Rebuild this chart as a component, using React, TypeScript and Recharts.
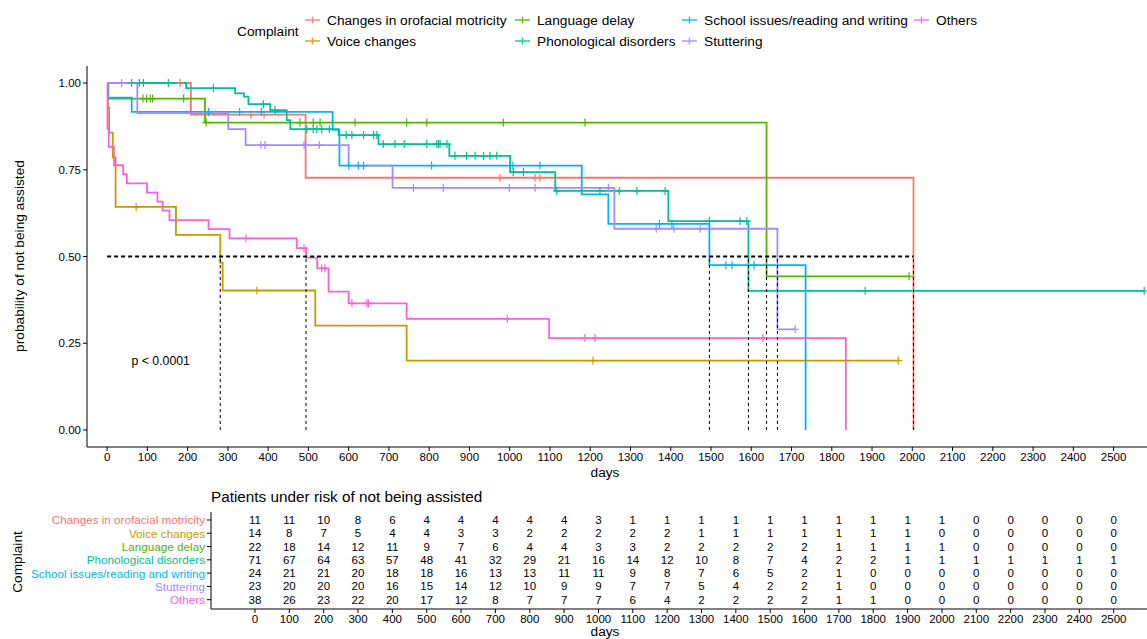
import React from "react";
import {
  ComposedChart,
  Line,
  Scatter,
  XAxis,
  YAxis,
  ReferenceLine,
  ReferenceDot,
} from "recharts";

const FONT = '"Liberation Sans", Arial, Helvetica, sans-serif';

const complaints = [
  "Changes in orofacial motricity",
  "Voice changes",
  "Language delay",
  "Phonological disorders",
  "School issues/reading and writing",
  "Stuttering",
  "Others",
];
const colors = ["#F8766D", "#C49A00", "#53B400", "#00C094", "#00B6EB", "#A58AFF", "#FB61D7"];

// Kaplan-Meier steps, [day, probability of not being assisted]
const orofacialSteps = [[0, 1], [208, 0.909], [493, 0.727], [2003, 0]];
const voiceSteps = [[0, 1], [2, 0.929], [5, 0.857], [14, 0.786], [21, 0.643], [171, 0.5625], [281, 0.482], [287, 0.402], [517, 0.301], [744, 0.2], [1965, 0.2]];
const languageSteps = [[0, 1], [3, 0.955], [243, 0.886], [1638, 0.443], [1992, 0.443]];
const phonoSteps = [[0, 1], [196, 0.985], [318, 0.97], [340, 0.961], [351, 0.939], [405, 0.922], [446, 0.893], [455, 0.867], [575, 0.85], [674, 0.824], [850, 0.79], [1001, 0.743], [1113, 0.689], [1394, 0.602], [1593, 0.401], [2576, 0.401]];
const schoolSteps = [[0, 1], [2, 0.958], [61, 0.917], [560, 0.865], [577, 0.762], [1179, 0.679], [1245, 0.594], [1496, 0.475], [1735, 0]];
const stutteringSteps = [[0, 1], [75, 0.913], [301, 0.867], [344, 0.821], [600, 0.762], [709, 0.698], [1260, 0.58], [1665, 0.29], [1709, 0.29]];
const othersSteps = [[0, 1], [1, 0.868], [4, 0.816], [17, 0.763], [40, 0.737], [49, 0.711], [99, 0.684], [125, 0.658], [138, 0.632], [155, 0.605], [252, 0.579], [304, 0.552], [471, 0.524], [494, 0.497], [522, 0.466], [550, 0.399], [600, 0.365], [744, 0.32], [1098, 0.265], [1835, 0]];

// censored observations (the "+" marks)
const orofacialCensor = [[181, 1], [357, 0.909], [390, 0.909], [976, 0.727], [1063, 0.727], [1075, 0.727]];
const voiceCensor = [[72, 0.643], [372, 0.402], [1207, 0.2], [1965, 0.2]];
const languageCensor = [[89, 0.955], [98, 0.955], [107, 0.955], [113, 0.955], [190, 0.955], [246, 0.886], [479, 0.886], [512, 0.886], [529, 0.886], [616, 0.886], [744, 0.886], [794, 0.886], [984, 0.886], [1187, 0.886], [1992, 0.443]];
const phonoCensor = [[61, 1], [80, 1], [90, 1], [152, 1], [264, 0.985], [388, 0.939], [417, 0.922], [496, 0.867], [512, 0.867], [521, 0.867], [533, 0.867], [552, 0.867], [594, 0.85], [608, 0.85], [637, 0.85], [662, 0.85], [670, 0.85], [686, 0.824], [715, 0.824], [738, 0.824], [794, 0.824], [819, 0.824], [823, 0.824], [827, 0.824], [844, 0.824], [864, 0.79], [893, 0.79], [914, 0.79], [935, 0.79], [951, 0.79], [968, 0.79], [1009, 0.743], [1034, 0.743], [1117, 0.689], [1224, 0.689], [1272, 0.689], [1316, 0.689], [1386, 0.689], [1496, 0.602], [1572, 0.602], [1589, 0.602], [1883, 0.401], [2576, 0.401]];
const schoolCensor = [[252, 0.917], [329, 0.917], [383, 0.917], [600, 0.762], [624, 0.762], [637, 0.762], [806, 0.762], [1008, 0.762], [1075, 0.762], [1372, 0.594], [1403, 0.594], [1537, 0.475], [1552, 0.475], [1607, 0.475]];
const stutteringCensor = [[36, 1], [382, 0.821], [392, 0.821], [489, 0.821], [527, 0.821], [761, 0.698], [835, 0.698], [999, 0.698], [1063, 0.698], [1245, 0.698], [1364, 0.58], [1408, 0.58], [1473, 0.58], [1709, 0.29]];
const othersCensor = [[345, 0.552], [489, 0.524], [533, 0.466], [541, 0.466], [608, 0.365], [645, 0.365], [649, 0.365], [994, 0.32], [1187, 0.265], [1212, 0.265], [1629, 0.265]];

const medianDays = [281, 494, 1496, 1593, 1638, 1665, 2003];

const dayTicks = [0, 100, 200, 300, 400, 500, 600, 700, 800, 900, 1000, 1100, 1200, 1300, 1400, 1500, 1600, 1700, 1800, 1900, 2000, 2100, 2200, 2300, 2400, 2500];
const probTicks = [0, 0.25, 0.5, 0.75, 1];

// number at risk at each day tick
const orofacialRisk = [11, 11, 10, 8, 6, 4, 4, 4, 4, 4, 3, 1, 1, 1, 1, 1, 1, 1, 1, 1, 1, 0, 0, 0, 0, 0];
const voiceRisk = [14, 8, 7, 5, 4, 4, 3, 3, 2, 2, 2, 2, 2, 1, 1, 1, 1, 1, 1, 1, 0, 0, 0, 0, 0, 0];
const languageRisk = [22, 18, 14, 12, 11, 9, 7, 6, 4, 4, 3, 3, 2, 2, 2, 2, 2, 1, 1, 1, 1, 0, 0, 0, 0, 0];
const phonoRisk = [71, 67, 64, 63, 57, 48, 41, 32, 29, 21, 16, 14, 12, 10, 8, 7, 4, 2, 2, 1, 1, 1, 1, 1, 1, 1];
const schoolRisk = [24, 21, 21, 20, 18, 18, 16, 13, 13, 11, 11, 9, 8, 7, 6, 5, 2, 1, 0, 0, 0, 0, 0, 0, 0, 0];
const stutteringRisk = [23, 20, 20, 20, 16, 15, 14, 12, 10, 9, 9, 7, 7, 5, 4, 2, 2, 1, 0, 0, 0, 0, 0, 0, 0, 0];
const othersRisk = [38, 26, 23, 22, 20, 17, 12, 8, 7, 7, 7, 6, 4, 2, 2, 2, 2, 1, 1, 0, 0, 0, 0, 0, 0, 0];

const allSteps = [orofacialSteps, voiceSteps, languageSteps, phonoSteps, schoolSteps, stutteringSteps, othersSteps];
const allCensor = [orofacialCensor, voiceCensor, languageCensor, phonoCensor, schoolCensor, stutteringCensor, othersCensor];
const allRisk = [orofacialRisk, voiceRisk, languageRisk, phonoRisk, schoolRisk, stutteringRisk, othersRisk];

const toPoints = (arr: number[][]) => arr.map(([day, s]) => ({ day, s }));

const tickFont = { fontSize: 11.5, fill: "#000", fontFamily: FONT };

const Cross = ({ cx, cy, color }: any) => (
  <g stroke={color} strokeWidth={1.2}>
    <line x1={cx - 4} x2={cx + 4} y1={cy} y2={cy} />
    <line x1={cx} x2={cx} y1={cy - 4} y2={cy + 4} />
  </g>
);

function Legend() {
  const colX = [305, 515, 682, 914];
  const rowY = [20, 41];
  return (
    <svg width={1147} height={60} style={{ position: "absolute", left: 0, top: 0 }}>
      <text x={237} y={31} dominantBaseline="central" fontSize={13.7} fontFamily={FONT}>
        Complaint
      </text>
      {complaints.map((name, i) => {
        const x = colX[Math.floor(i / 2)];
        const y = rowY[i % 2];
        return (
          <g key={name}>
            <g stroke={colors[i]} strokeWidth={1.5} opacity={0.85}>
              <line x1={x} x2={x + 15} y1={y} y2={y} />
              <line x1={x + 7.5} x2={x + 7.5} y1={y - 3.5} y2={y + 3.5} />
            </g>
            <text x={x + 22} y={y} dominantBaseline="central" fontSize={13.7} fontFamily={FONT}>
              {name}
            </text>
          </g>
        );
      })}
    </svg>
  );
}

function SurvivalPlot() {
  return (
    <ComposedChart width={1147} height={482} margin={{ top: 66, right: 0, bottom: 0, left: 0 }}>
      <XAxis
        type="number"
        dataKey="day"
        domain={[-50, 2583]}
        ticks={dayTicks}
        interval={0}
        allowDataOverflow
        height={35}
        tick={tickFont}
        tickSize={4}
        axisLine={{ stroke: "#000" }}
        tickLine={{ stroke: "#000" }}
        label={() => (
          <text x={605} y={472} textAnchor="middle" dominantBaseline="central" fontSize={13.7} fontFamily={FONT}>
            days
          </text>
        )}
      />
      <YAxis
        type="number"
        dataKey="s"
        domain={[-0.049, 1.049]}
        ticks={probTicks}
        interval={0}
        allowDataOverflow
        width={87}
        tick={tickFont}
        tickSize={4}
        tickFormatter={(v: number) => v.toFixed(2)}
        axisLine={{ stroke: "#000" }}
        tickLine={{ stroke: "#000" }}
        label={() => (
          <text x={19} y={256} transform="rotate(-90 19 256)" textAnchor="middle" dominantBaseline="central" fontSize={13.7} fontFamily={FONT}>
            probability of not being assisted
          </text>
        )}
      />
      {allSteps.map((steps, i) => (
        <Line
          key={`line-${i}`}
          data={toPoints(steps)}
          dataKey="s"
          type="stepAfter"
          stroke={colors[i]}
          strokeWidth={1.8}
          dot={false}
          isAnimationActive={false}
        />
      ))}
      {allCensor.map((pts, i) => (
        <Scatter
          key={`cens-${i}`}
          data={toPoints(pts)}
          dataKey="s"
          isAnimationActive={false}
          shape={(p: any) => <Cross cx={p.cx} cy={p.cy} color={colors[i]} />}
        />
      ))}
      <ReferenceLine
        segment={[{ x: 0, y: 0.5 }, { x: Math.max(...medianDays), y: 0.5 }]}
        stroke="#000"
        strokeWidth={1.8}
        strokeDasharray="4 3"
      />
      {medianDays.map((d) => (
        <ReferenceLine
          key={`med-${d}`}
          segment={[{ x: d, y: 0 }, { x: d, y: 0.5 }]}
          stroke="#000"
          strokeWidth={1}
          strokeDasharray="3 3"
        />
      ))}
      <ReferenceDot
        x={133}
        y={0.199}
        r={0}
        shape={(p: any) => (
          <text x={p.cx} y={p.cy} textAnchor="middle" dominantBaseline="central" fontSize={12.3} fontFamily={FONT}>
            p &lt; 0.0001
          </text>
        )}
      />
    </ComposedChart>
  );
}

function RiskTable() {
  return (
    <ComposedChart width={1147} height={159} margin={{ top: 32, right: 0, bottom: 0, left: 0 }}>
      <XAxis
        type="number"
        dataKey="day"
        domain={[-128, 2597]}
        ticks={dayTicks}
        interval={0}
        allowDataOverflow
        height={30}
        tick={tickFont}
        tickSize={4}
        axisLine={{ stroke: "#000" }}
        tickLine={{ stroke: "#000" }}
        label={() => (
          <text x={605} y={151} textAnchor="middle" dominantBaseline="central" fontSize={13.7} fontFamily={FONT}>
            days
          </text>
        )}
      />
      <YAxis
        type="number"
        dataKey="row"
        domain={[0.4, 7.7]}
        ticks={[1, 2, 3, 4, 5, 6, 7]}
        interval={0}
        reversed
        allowDataOverflow
        width={211}
        tickSize={4}
        axisLine={{ stroke: "#000" }}
        tickLine={{ stroke: "#000" }}
        tick={(p: any) => (
          <text
            x={p.x}
            y={p.y}
            textAnchor="end"
            dominantBaseline="central"
            fontSize={11.7}
            fontFamily={FONT}
            fill={colors[p.payload.value - 1]}
          >
            {complaints[p.payload.value - 1]}
          </text>
        )}
        label={() => (
          <text x={17} y={82} transform="rotate(-90 17 82)" textAnchor="middle" dominantBaseline="central" fontSize={13.7} fontFamily={FONT}>
            Complaint
          </text>
        )}
      />
      {allRisk.map((risk, i) => (
        <Scatter
          key={`risk-${i}`}
          data={risk.map((n, j) => ({ day: dayTicks[j], row: i + 1, n }))}
          dataKey="row"
          isAnimationActive={false}
          shape={(p: any) => (
            <text x={p.cx} y={p.cy} textAnchor="middle" dominantBaseline="central" fontSize={11.5} fontFamily={FONT} fill="#000">
              {p.payload.n}
            </text>
          )}
        />
      ))}
    </ComposedChart>
  );
}

export default function App() {
  return (
    <div style={{ position: "absolute", left: 0, top: 0, width: 1147, height: 639, background: "#fff", fontFamily: FONT }}>
      <div style={{ position: "absolute", left: 0, top: 0 }}>
        <SurvivalPlot />
      </div>
      <Legend />
      <div
        style={{
          position: "absolute",
          left: 211,
          top: 489,
          fontSize: 15.3,
          lineHeight: 1,
          fontFamily: FONT,
          whiteSpace: "nowrap",
        }}
      >
        Patients under risk of not being assisted
      </div>
      <div style={{ position: "absolute", left: 0, top: 480 }}>
        <RiskTable />
      </div>
    </div>
  );
}
